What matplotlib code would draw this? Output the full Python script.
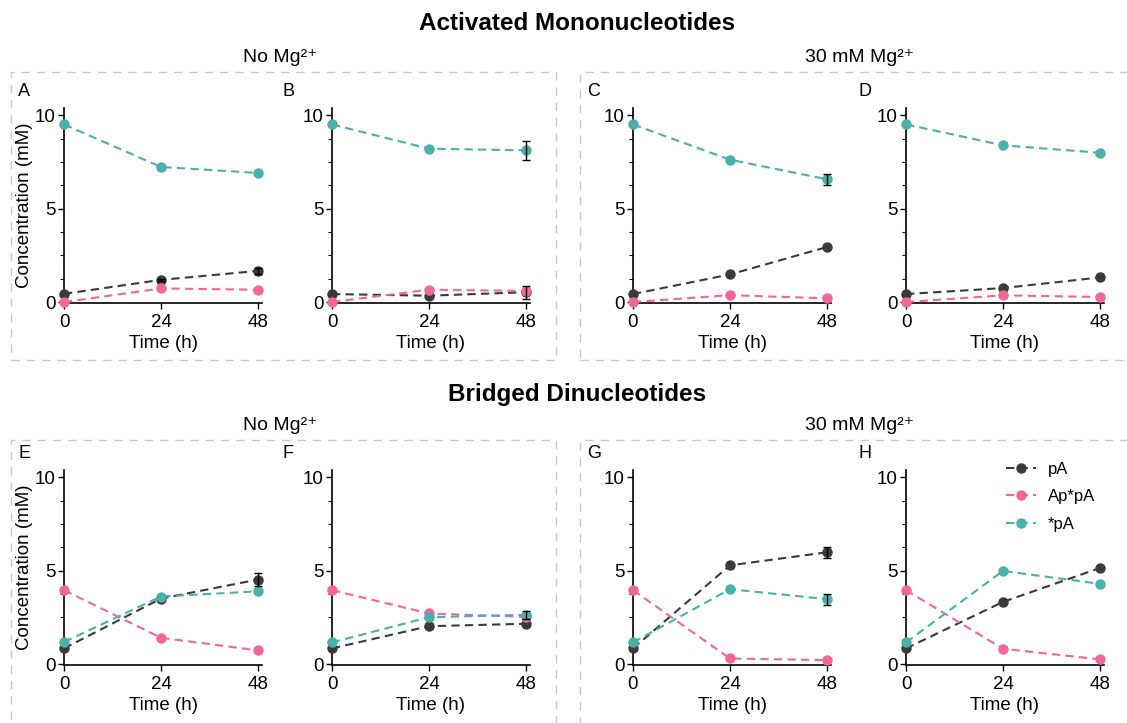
import matplotlib
matplotlib.use("Agg")
import matplotlib.pyplot as plt
from matplotlib.patches import Rectangle
from matplotlib.ticker import MultipleLocator

plt.rcParams['font.family'] = ['Liberation Sans', 'DejaVu Sans']
plt.rcParams['font.size'] = 12

# time points (h)
hours = [0, 24, 48]

# Activated mononucleotides (top row)
A_pA = [0.44, 1.19, 1.67]
A_pA_err = [0, 0.05, 0.15]
A_App = [0.0, 0.73, 0.66]
A_App_err = [0, 0, 0]
A_spA = [9.52, 7.24, 6.92]
A_spA_err = [0, 0, 0]

B_pA = [0.43, 0.34, 0.53]
B_pA_err = [0, 0, 0.35]
B_App = [0.0, 0.66, 0.60]
B_App_err = [0, 0, 0]
B_spA = [9.52, 8.22, 8.13]
B_spA_err = [0, 0, 0.5]

C_pA = [0.43, 1.48, 2.95]
C_pA_err = [0, 0, 0]
C_App = [0.0, 0.37, 0.20]
C_App_err = [0, 0, 0]
C_spA = [9.52, 7.63, 6.58]
C_spA_err = [0, 0, 0.3]

D_pA = [0.43, 0.75, 1.32]
D_pA_err = [0, 0, 0]
D_App = [0.0, 0.36, 0.27]
D_App_err = [0, 0, 0]
D_spA = [9.52, 8.40, 8.00]
D_spA_err = [0, 0, 0]

# Bridged dinucleotides (bottom row)
E_pA = [0.84, 3.51, 4.53]
E_pA_err = [0, 0, 0.35]
E_App = [3.96, 1.41, 0.73]
E_App_err = [0, 0, 0]
E_spA = [1.18, 3.62, 3.90]
E_spA_err = [0, 0, 0]

F_pA = [0.84, 2.03, 2.16]
F_pA_err = [0, 0, 0]
F_App = [3.96, 2.71, 2.53]
F_App_err = [0, 0, 0]
F_spA = [1.16, 2.51, 2.64]
F_spA_err = [0, 0, 0.2]

G_pA = [0.84, 5.29, 5.99]
G_pA_err = [0, 0, 0.3]
G_App = [3.96, 0.30, 0.21]
G_App_err = [0, 0, 0]
G_spA = [1.16, 4.01, 3.48]
G_spA_err = [0, 0, 0.3]

H_pA = [0.84, 3.33, 5.15]
H_pA_err = [0, 0, 0]
H_App = [3.96, 0.82, 0.25]
H_App_err = [0, 0, 0]
H_spA = [1.16, 4.99, 4.30]
H_spA_err = [0, 0, 0]

series_names = ['pA', 'Ap*pA', '*pA']
series_colors = ['#3a3a3a', '#f2679a', '#4bafaa']

panels = {
    'A': [(A_pA, A_pA_err), (A_App, A_App_err), (A_spA, A_spA_err)],
    'B': [(B_pA, B_pA_err), (B_App, B_App_err), (B_spA, B_spA_err)],
    'C': [(C_pA, C_pA_err), (C_App, C_App_err), (C_spA, C_spA_err)],
    'D': [(D_pA, D_pA_err), (D_App, D_App_err), (D_spA, D_spA_err)],
    'E': [(E_pA, E_pA_err), (E_App, E_App_err), (E_spA, E_spA_err)],
    'F': [(F_pA, F_pA_err), (F_App, F_App_err), (F_spA, F_spA_err)],
    'G': [(G_pA, G_pA_err), (G_App, G_App_err), (G_spA, G_spA_err)],
    'H': [(H_pA, H_pA_err), (H_App, H_App_err), (H_spA, H_spA_err)],
}

W, H = 1127, 723
fig = plt.figure(figsize=(W / 100, H / 100), dpi=100)

def px_axes(left, top, width, height):
    return fig.add_axes([left / W, 1 - (top + height) / H, width / W, height / H])

def fig_text(x, y, s, **kw):
    fig.text(x / W, 1 - y / H, s, **kw)

# dashed group boxes
for (x0, y0, x1, y1) in [(11, 72, 556, 360), (580, 72, 1140, 360),
                         (11, 440, 556, 740), (580, 440, 1140, 740)]:
    fig.patches.append(Rectangle((x0 / W, 1 - y1 / H), (x1 - x0) / W, (y1 - y0) / H,
                                 transform=fig.transFigure, fill=False,
                                 edgecolor='#c8c8c8', linestyle=(0, (6, 5)), linewidth=1.0))

# titles
fig_text(577, 24, 'Activated Mononucleotides', ha='center', va='center', fontsize=17.5, fontweight='bold')
fig_text(577, 395, 'Bridged Dinucleotides', ha='center', va='center', fontsize=17.5, fontweight='bold')
for yy in (57, 425):
    fig_text(280, yy, 'No Mg²⁺', ha='center', va='center', fontsize=14)
    fig_text(860, yy, '30 mM Mg²⁺', ha='center', va='center', fontsize=14)

lefts = [64, 332, 633, 906]
tops = [108, 470]
letters = [['A', 'B', 'C', 'D'], ['E', 'F', 'G', 'H']]
label_x = [18, 283, 587, 858]

for r in range(2):
    for c in range(4):
        key = letters[r][c]
        ax = px_axes(lefts[c], tops[r], 198, 195)
        for (vals, errs), name, col in zip(panels[key], series_names, series_colors):
            ax.plot(hours, vals, linestyle=(0, (4, 2.5)), color=col, linewidth=1.5,
                    marker='o', markersize=6.5, label=name, clip_on=False, zorder=3)
            idx = [i for i, e in enumerate(errs) if e > 0]
            if idx:
                ax.errorbar([hours[i] for i in idx], [vals[i] for i in idx],
                            yerr=[errs[i] for i in idx], fmt='none', ecolor='black',
                            elinewidth=1.0, capsize=3, capthick=1.0, clip_on=False, zorder=4)
        ax.set_xlim(0, 49)
        ax.set_ylim(-0.05, 10.4)
        ax.set_xticks(hours)
        ax.set_yticks([0, 5, 10])
        ax.yaxis.set_minor_locator(MultipleLocator(1.25))
        ax.spines['top'].set_visible(False)
        ax.spines['right'].set_visible(False)
        ax.spines['left'].set_linewidth(1.2)
        ax.spines['bottom'].set_linewidth(1.2)
        ax.tick_params(axis='both', which='major', length=4, width=1.0, labelsize=13.5, pad=2)
        ax.tick_params(axis='x', which='major', pad=4)
        ax.tick_params(axis='y', which='minor', length=3, width=0.8)
        ax.set_xlabel('Time (h)', fontsize=13.5, labelpad=3)
        if c == 0:
            ax.set_ylabel('Concentration (mM)', fontsize=13.5, labelpad=1)
        ax.patch.set_alpha(0)
        fig_text(label_x[c], tops[r] - 16, key, ha='left', va='center', fontsize=13)
        if key == 'H':
            ax.legend(loc='upper right', bbox_to_anchor=(1.03, 1.12), frameon=False, fontsize=12,
                      handlelength=1.8, handletextpad=0.7, labelspacing=0.75)

fig.savefig('out.png', dpi=100)
